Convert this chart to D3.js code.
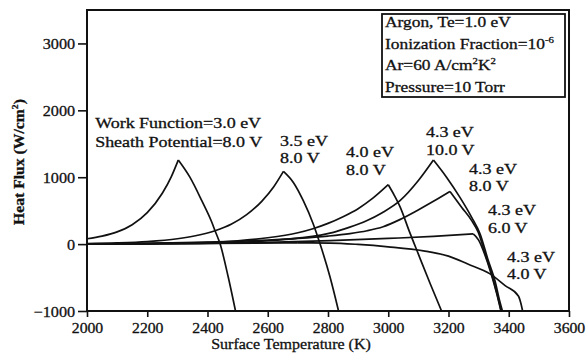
<!DOCTYPE html>
<html>
<head>
<meta charset="utf-8">
<title>Heat Flux vs Surface Temperature</title>
<script src="https://cdn.jsdelivr.net/npm/d3@7"></script>
<style>
  body { margin: 0; background: #fff; }
  svg text { font-family: "Liberation Serif", "Times New Roman", serif; fill: #111; stroke: #111; stroke-width: 0.3px; }
</style>
</head>
<body>
<div id="chart"></div>
<script>
var xTicks = [2000, 2200, 2400, 2600, 2800, 3000, 3200, 3400, 3600];
var yTicks = [-1000, 0, 1000, 2000, 3000];

// each curve: [surface temperature (K), heat flux (W/cm2)]
var wf30v80 = [[2000, 80], [2050, 120], [2100, 183], [2150, 290], [2200, 470], [2250, 760], [2280, 1010], [2303, 1257],
               [2342, 997], [2381, 649], [2414, 330], [2425, 200], [2442, 0], [2469, -496], [2493, -1000]];
var wf35v80 = [[2000, 8], [2100, 18], [2200, 38], [2300, 80], [2360, 125], [2425, 200], [2480, 300], [2530, 440], [2580, 640], [2620, 858], [2652, 1087],
               [2685, 922], [2718, 649], [2751, 301], [2773, 12], [2807, -496], [2835, -1000]];
var wf40v80 = [[2000, 0], [2200, 8], [2400, 25], [2500, 50], [2600, 95], [2700, 170], [2750, 230], [2800, 310], [2850, 410], [2900, 530], [2950, 690], [3000, 888],
               [3020, 730], [3040, 550], [3070, 190], [3100, -150], [3140, -600], [3177, -1000]];
var wf43v100 = [[2000, 0], [2200, 5], [2400, 15], [2600, 50], [2700, 90], [2818, 176], [2870, 250], [2928, 350], [2980, 470], [3039, 649], [3100, 950], [3150, 1257],
                [3194, 997], [3238, 699], [3277, 400], [3305, 152], [3332, -246], [3354, -545], [3371, -869], [3379, -1000]];
var wf43v80 = [[2000, 0], [2200, 10], [2400, 30], [2600, 60], [2700, 85], [2800, 120], [2873, 157], [2930, 200], [2983, 260], [3040, 370], [3095, 500], [3150, 640], [3205, 788],
               [3244, 549], [3277, 351], [3299, 176], [3320, -120], [3340, -400], [3360, -720], [3375, -1000]];
var wf43v60 = [[2000, 0], [2400, 12], [2600, 25], [2807, 52], [3000, 85], [3150, 115], [3282, 152],
               [3300, 60], [3320, -150], [3340, -420], [3360, -740], [3374, -1000]];
var wf43v40 = [[2000, 5], [2400, 12], [2700, 18], [2807, 15], [2900, -5], [3000, -40], [3117, -100], [3200, -180], [3264, -298], [3338, -445], [3388, -620], [3432, -775], [3440, -880], [3446, -1000]];

var curves = [wf30v80, wf35v80, wf40v80, wf43v100, wf43v80, wf43v60, wf43v40];

var annotations = [
  { T: 2027, q: 1736, lines: ["Work Function=3.0 eV", "Sheath Potential=8.0 V"], gap: 19 },
  { T: 2641, q: 1467, lines: ["3.5 eV", "8.0 V"], gap: 17 },
  { T: 2860, q: 1302, lines: ["4.0 eV", "8.0 V"], gap: 18 },
  { T: 3125, q: 1601, lines: ["4.3 eV", "10.0 V"], gap: 18 },
  { T: 3268, q: 1048, lines: ["4.3 eV", "8.0 V"], gap: 17 },
  { T: 3331, q: 435, lines: ["4.3 eV", "6.0 V"], gap: 18 },
  { T: 3394, q: -267, lines: ["4.3 eV", "4.0 V"], gap: 17 }
];

var legendLines = [
  [["Argon, Te=1.0 eV"]],
  [["Ionization Fraction=10"], ["-6", 1]],
  [["Ar=60 A/cm"], ["2", 1], ["K"], ["2", 1]],
  [["Pressure=10 Torr"]]
];

var width = 587, height = 362;
var x = d3.scaleLinear().domain([2000, 3600]).range([87, 569]);
var y = d3.scaleLinear().domain([-1000, 3500]).range([311, 10]);

var svg = d3.select("#chart").append("svg")
  .attr("width", width)
  .attr("height", height);

svg.append("clipPath").attr("id", "plot")
  .append("rect")
  .attr("x", x(2000)).attr("y", y(3500))
  .attr("width", x(3600) - x(2000)).attr("height", y(-1000) - y(3500));

// write a run of pieces, some raised as superscripts
function richText(sel, parts, size) {
  sel.attr("font-size", size);
  var raised = false;
  parts.forEach(function(p) {
    var ts = sel.append("tspan").text(p[0]);
    if (p[1]) {
      ts.attr("dy", raised ? 0 : -6).attr("font-size", size * 0.62);
      raised = true;
    } else {
      ts.attr("font-size", size);
      if (raised) ts.attr("dy", 6);
      raised = false;
    }
  });
}

// axes
var xAxis = svg.append("g")
  .attr("transform", "translate(0," + y(-1000) + ")")
  .call(d3.axisBottom(x).tickValues(xTicks).tickSize(6).tickPadding(5).tickFormat(d3.format("d")));
var yAxis = svg.append("g")
  .attr("transform", "translate(" + x(2000) + ",0)")
  .call(d3.axisLeft(y).tickValues(yTicks).tickSize(9).tickPadding(2).tickFormat(d3.format("d")));

[xAxis, yAxis].forEach(function(a) {
  a.select(".domain").remove();
  a.selectAll(".tick line").attr("stroke", "#111").attr("stroke-width", 1.6);
  a.selectAll(".tick text")
    .attr("font-size", 15)
    .attr("fill", "#111")
    .style("font-family", '"Liberation Serif", "Times New Roman", serif');
});
xAxis.selectAll(".tick text").attr("transform", "scale(1.05,1)");
yAxis.selectAll(".tick text").attr("transform", "scale(1.08,1)").attr("dy", "0.35em");

// frame
svg.append("rect")
  .attr("x", x(2000)).attr("y", y(3500))
  .attr("width", x(3600) - x(2000)).attr("height", y(-1000) - y(3500))
  .attr("fill", "none").attr("stroke", "#111").attr("stroke-width", 2);

// curves: split at peaks so each cusp stays sharp
function pieces(pts) {
  var segs = [], cur = [pts[0]];
  for (var i = 1; i < pts.length; i++) {
    cur.push(pts[i]);
    if (i < pts.length - 1 && pts[i][1] > pts[i - 1][1] && pts[i][1] > pts[i + 1][1]) {
      segs.push(cur);
      cur = [pts[i]];
    }
  }
  segs.push(cur);
  return segs;
}

var line = d3.line()
  .x(function(d) { return x(d[0]); })
  .y(function(d) { return y(d[1]); })
  .curve(d3.curveMonotoneX);

var plot = svg.append("g").attr("clip-path", "url(#plot)");
curves.forEach(function(c) {
  plot.selectAll(null).data(pieces(c)).enter().append("path")
    .attr("d", line)
    .attr("fill", "none")
    .attr("stroke", "#111")
    .attr("stroke-width", 1.7)
    .attr("stroke-linejoin", "round");
});

// curve labels
annotations.forEach(function(a) {
  a.lines.forEach(function(t, i) {
    svg.append("text")
      .attr("transform", "translate(" + x(a.T) + "," + (y(a.q) + i * a.gap) + ") scale(1.2,1)")
      .attr("font-size", 15)
      .text(t);
  });
});

// legend box
var box = svg.append("g").attr("transform", "translate(382,14)");
box.append("rect")
  .attr("width", 183).attr("height", 83)
  .attr("fill", "#fff").attr("stroke", "#111").attr("stroke-width", 1.8);
legendLines.forEach(function(parts, i) {
  var t = box.append("text")
    .attr("transform", "translate(3," + (13 + i * 21.5) + ") scale(1.2,1)");
  richText(t, parts, 14.5);
});

// axis titles
var yt = svg.append("text")
  .attr("transform", "translate(24,162) rotate(-90) scale(1.12,1)")
  .attr("text-anchor", "middle")
  .attr("font-weight", "bold");
richText(yt, [["Heat Flux (W/cm"], ["2", 1], [")"]], 14);

svg.append("text")
  .attr("transform", "translate(291,349) scale(1.07,1)")
  .attr("text-anchor", "middle")
  .attr("font-size", 15)
  .text("Surface Temperature (K)");
</script>
</body>
</html>
